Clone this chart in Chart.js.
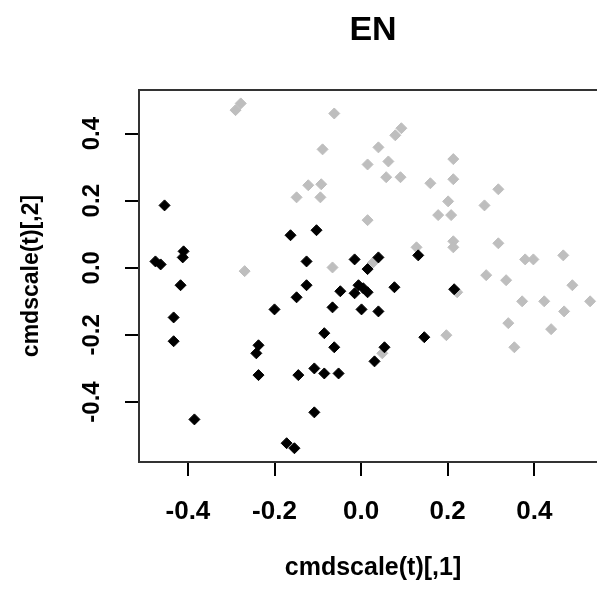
<!DOCTYPE html>
<html>
<head>
<meta charset="utf-8">
<script src="https://cdn.jsdelivr.net/npm/chart.js@4.4.1/dist/chart.umd.min.js"></script>
<style>
  html, body { margin: 0; padding: 0; background: #fff; overflow: hidden; }
  #caixa { width: 620px; height: 592px; }
</style>
</head>
<body>
<div id="caixa"><canvas id="grafico" width="620" height="592"></canvas></div>
<script>
// coordenadas do cmdscale: grupo preto
const pretoX = [-0.475, -0.463, -0.454, -0.410, -0.412, -0.417, -0.433, -0.433, -0.385, -0.237, -0.242,
  -0.237, -0.200, -0.163, -0.149, -0.126, -0.126, -0.103, -0.145, -0.108, -0.085, -0.052, -0.108, -0.172,
  -0.154, -0.085, -0.062, -0.066, -0.048, -0.015, -0.015, -0.006, 0.005, 0.015, 0.001, 0.015, 0.040,
  0.040, 0.054, 0.031, 0.077, 0.132, 0.146, 0.215];
const pretoY = [0.019, 0.010, 0.186, 0.049, 0.031, -0.052, -0.148, -0.219, -0.452, -0.231, -0.255,
  -0.320, -0.124, 0.097, -0.088, 0.019, -0.052, 0.112, -0.320, -0.300, -0.315, -0.315, -0.431, -0.523,
  -0.538, -0.195, -0.237, -0.118, -0.070, 0.025, -0.076, -0.052, -0.061, -0.073, -0.124, -0.004, 0.031,
  -0.130, -0.237, -0.279, -0.058, 0.037, -0.207, -0.064];

// grupo cinza
const cinzaX = [-0.290, -0.278, -0.062, -0.089, 0.015, -0.122, -0.092, -0.149, -0.094, 0.015, -0.269,
  -0.066, 0.079, 0.093, 0.040, 0.063, 0.058, 0.091, 0.213, 0.213, 0.160, 0.201, 0.178, 0.208, 0.317,
  0.285, 0.128, 0.213, 0.213, 0.317, 0.379, 0.398, 0.467, 0.289, 0.335, 0.488, 0.028, 0.372, 0.423,
  0.529, 0.469, 0.340, 0.439, 0.354, 0.197, 0.049, 0.222];
const cinzaY = [0.470, 0.490, 0.460, 0.353, 0.308, 0.246, 0.249, 0.210, 0.210, 0.142, -0.010,
  0.001, 0.395, 0.416, 0.359, 0.317, 0.270, 0.270, 0.324, 0.264, 0.252, 0.198, 0.157, 0.157, 0.234,
  0.186, 0.061, 0.079, 0.061, 0.073, 0.025, 0.025, 0.037, -0.022, -0.037, -0.052, 0.016, -0.100, -0.100,
  -0.100, -0.130, -0.165, -0.183, -0.237, -0.201, -0.255, -0.073];

const ticksX = [-0.4, -0.2, 0.0, 0.2, 0.4];
const ticksY = [-0.4, -0.2, 0.0, 0.2, 0.4];

const titulo = 'EN';
const rotuloX = 'cmdscale(t)[,1]';
const rotuloY = 'cmdscale(t)[,2]';

const familia = '"Liberation Sans", Arial, sans-serif';

const pontos = (xs, ys) => xs.map((x, i) => ({ x: x, y: ys[i] }));

// caixa em volta do gráfico, como no R
const caixa = {
  id: 'caixa',
  afterDraw(chart) {
    const { ctx, chartArea: a } = chart;
    ctx.save();
    ctx.strokeStyle = '#333';
    ctx.lineWidth = 2;
    ctx.strokeRect(a.left, a.top, a.right - a.left, a.bottom - a.top);
    ctx.restore();
  }
};

// título centrado na área do gráfico
const tituloR = {
  id: 'tituloR',
  afterDraw(chart) {
    const { ctx, chartArea: a } = chart;
    ctx.save();
    ctx.font = 'bold 34px ' + familia;
    ctx.fillStyle = '#000';
    ctx.textAlign = 'center';
    ctx.textBaseline = 'middle';
    ctx.fillText(titulo, (a.left + a.right) / 2, 31);
    ctx.restore();
  }
};

const grade = {
  display: true,
  drawOnChartArea: false,
  drawTicks: true,
  tickLength: 14,
  color: '#000',
  lineWidth: 2
};

new Chart(document.getElementById('grafico'), {
  type: 'scatter',
  data: {
    datasets: [
      {
        label: 'preto',
        data: pontos(pretoX, pretoY),
        pointStyle: 'rectRot',
        pointRadius: 5.5,
        backgroundColor: '#000',
        borderColor: '#000',
        borderWidth: 1
      },
      {
        label: 'cinza',
        data: pontos(cinzaX, cinzaY),
        pointStyle: 'rectRot',
        pointRadius: 5.5,
        backgroundColor: '#bebebe',
        borderColor: '#bebebe',
        borderWidth: 1
      }
    ]
  },
  options: {
    responsive: false,
    animation: false,
    devicePixelRatio: 1,
    layout: { padding: { top: 90, right: 13, left: 0, bottom: 0 } },
    plugins: {
      legend: { display: false },
      tooltip: { enabled: false }
    },
    scales: {
      x: {
        type: 'linear',
        min: -0.513,
        max: 0.568,
        afterBuildTicks: s => { s.ticks = ticksX.map(v => ({ value: v })); },
        afterFit: s => { s.height = 130; },
        grid: grade,
        border: { display: false },
        ticks: {
          color: '#000',
          font: { family: familia, size: 26, weight: 'bold' },
          padding: 20,
          maxRotation: 0,
          autoSkip: false,
          callback: v => Number(v).toFixed(1)
        },
        title: {
          display: true,
          text: rotuloX,
          color: '#000',
          font: { family: familia, size: 25, weight: 'bold' },
          padding: { top: 0, bottom: 9 }
        }
      },
      y: {
        type: 'linear',
        min: -0.579,
        max: 0.530,
        afterBuildTicks: s => { s.ticks = ticksY.map(v => ({ value: v })); },
        afterFit: s => { s.width = 139; },
        grid: grade,
        border: { display: false },
        ticks: {
          color: '#000',
          font: { family: familia, size: 24, weight: 'bold' },
          padding: 12,
          minRotation: 90,
          maxRotation: 90,
          crossAlign: 'center',
          autoSkip: false,
          callback: v => Number(v).toFixed(1)
        },
        title: {
          display: true,
          text: rotuloY,
          color: '#000',
          font: { family: familia, size: 23, weight: 'bold' },
          padding: { top: 18, bottom: 0 }
        }
      }
    }
  },
  plugins: [caixa, tituloR]
});
</script>
</body>
</html>
